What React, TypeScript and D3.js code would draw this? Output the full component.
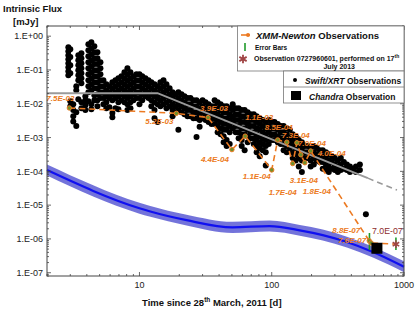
import React, { useEffect, useRef } from 'react';
import * as d3 from 'd3';

// Swift/XRT observations: [time since 28 March 2011 (d), fluxes (mJy)]
const swiftObs: [number, number[]][] = [
  [2.9, [0.47, 0.36, 0.274, 0.209, 0.159, 0.121, 0.092, 0.07]],
  [3.0, [0.41, 0.24, 0.139, 0.08, 0.0119, 0.0085]],
  [3.16, [0.0097, 0.0065, 0.0043, 0.003]],
  [3.33, [0.0332, 0.0253, 0.0022, 0.0056]],
  [3.45, [0.274, 0.195, 0.139, 0.0986, 0.07, 0.0499, 0.0137]],
  [3.64, [0.314, 0.223, 0.159, 0.113, 0.08, 0.0572, 0.0407, 0.0111, 0.0074]],
  [3.9, [0.0128, 0.0091, 0.0065, 0.0168]],
  [4.11, [0.58, 0.385, 0.256, 0.17, 0.113, 0.075, 0.0499, 0.0332, 0.022, 0.0119]],
  [4.33, [0.664, 0.441, 0.293, 0.195, 0.129, 0.086, 0.0572, 0.038, 0.0253, 0.0097, 0.0069]],
  [4.56, [0.506, 0.336, 0.223, 0.149, 0.0986, 0.0656, 0.0436, 0.029, 0.018, 0.0128]],
  [4.81, [0.336, 0.223, 0.149, 0.0986, 0.0656, 0.0436, 0.029, 0.0192, 0.0128, 0.0085]],
  [5.07, [0.17, 0.113, 0.075, 0.0499, 0.0332, 0.022, 0.0147]],
  [5.34, [0.0499, 0.0332, 0.022, 0.0147, 0.0097]],
  [5.62, [0.038, 0.0253, 0.0168, 0.0111, 0.0074]],
  [5.93, [0.0332, 0.022, 0.0147, 0.0079]],
  [6.24, [0.0436, 0.029, 0.0192, 0.0128, 0.0053, 0.004]],
  [6.58, [0.0499, 0.0332, 0.022, 0.0147, 0.0074]],
  [6.93, [0.0572, 0.038, 0.0253, 0.0168, 0.0111, 0.0069]],
  [7.31, [0.0656, 0.0436, 0.029, 0.0192, 0.0128]],
  [7.7, [0.086, 0.0572, 0.038, 0.0253, 0.0168, 0.0111]],
  [8.11, [0.113, 0.075, 0.0499, 0.0332, 0.022, 0.0147, 0.0097, 0.0065]],
  [8.55, [0.086, 0.0572, 0.038, 0.0253, 0.0168, 0.0111, 0.0074]],
  [9.01, [0.0656, 0.0436, 0.029, 0.0192, 0.0128]],
  [9.49, [0.075, 0.0499, 0.0332, 0.022, 0.0147]],
  [10, [0.075, 0.0499, 0.0332, 0.022, 0.0147, 0.0097]],
  [10.5, [0.0656, 0.0436, 0.029, 0.0192, 0.0128]],
  [11.1, [0.0572, 0.038, 0.0253, 0.0168]],
  [11.7, [0.0499, 0.0332, 0.022, 0.0147]],
  [12.3, [0.0436, 0.029, 0.0192, 0.0128, 0.0085]],
  [13.0, [0.038, 0.0253, 0.0168, 0.0111, 0.0065, 0.0037]],
  [13.7, [0.0332, 0.022, 0.0147, 0.0097, 0.0029]],
  [14.4, [0.0436, 0.029, 0.0192, 0.0128, 0.0085]],
  [15.2, [0.0499, 0.0332, 0.022, 0.0147, 0.0097]],
  [16.0, [0.038, 0.0253, 0.0168, 0.0111, 0.0074]],
  [16.9, [0.029, 0.0192, 0.0128, 0.0085]],
  [17.8, [0.022, 0.0147, 0.0097, 0.0065, 0.0043]],
  [18.7, [0.0192, 0.0128, 0.0085, 0.0056]],
  [19.7, [0.022, 0.0147, 0.0097, 0.0065, 0.0017]],
  [20.8, [0.0192, 0.0128, 0.0085, 0.0056]],
  [21.9, [0.0168, 0.0111, 0.0074, 0.0049]],
  [23.1, [0.0147, 0.0097, 0.0065, 0.0043]],
  [24.3, [0.0147, 0.0097, 0.0065, 0.0043]],
  [25.6, [0.0128, 0.0085, 0.0056, 0.0037]],
  [27.0, [0.0128, 0.0085, 0.0056, 0.0037, 0.00103]],
  [28.5, [0.0111, 0.0074, 0.0049, 0.0033, 0.0021]],
  [30.0, [0.0128, 0.0085, 0.0056, 0.0037]],
  [31.6, [0.0111, 0.0074, 0.0049, 0.0033]],
  [33.3, [0.0097, 0.0065, 0.0043, 0.0029]],
  [35.1, [0.0085, 0.0056, 0.0037, 0.0025]],
  [37.0, [0.0128, 0.0085, 0.0056, 0.0037, 0.0025]],
  [39.0, [0.0111, 0.0074, 0.0049, 0.0033, 0.0022, 0.00144]],
  [41.1, [0.0097, 0.0065, 0.0043, 0.0029, 0.0019, 0.00126]],
  [43.3, [0.0085, 0.0056, 0.0037, 0.0025, 0.0017, 0.0011, 0.00073]],
  [45.6, [0.0085, 0.0056, 0.0037, 0.0025, 0.0017, 0.00084, 0.00056]],
  [48.1, [0.0074, 0.0049, 0.0033, 0.0022, 0.00144, 0.00064]],
  [50.7, [0.0097, 0.0065, 0.0043, 0.0029, 0.0019]],
  [53.4, [0.0074, 0.0049, 0.0033, 0.0022, 0.00144]],
  [56.2, [0.0074, 0.0049, 0.0033, 0.0022, 0.00144, 0.00096]],
  [59.3, [0.0065, 0.0043, 0.0029, 0.0019, 0.00126, 0.00084, 0.00056]],
  [62.4, [0.0065, 0.0043, 0.0029, 0.0019, 0.00126, 0.00042]],
  [65.8, [0.0056, 0.0037, 0.0025, 0.0017, 0.0011, 0.00073]],
  [69.3, [0.0049, 0.0033, 0.0022, 0.00144, 0.00096]],
  [73.1, [0.0049, 0.0033, 0.0022, 0.00144, 0.00096, 0.00064]],
  [76.9, [0.0043, 0.0029, 0.0019, 0.00126, 0.00084, 0.00056, 0.00037]],
  [81.1, [0.0037, 0.0025, 0.0017, 0.0011, 0.00073, 0.00049, 0.00028]],
  [85.5, [0.0033, 0.0022, 0.00144, 0.00096, 0.00064, 0.00042]],
  [90.1, [0.0029, 0.0019, 0.00126, 0.00084, 0.00056, 0.00037, 0.00015]],
  [94.9, [0.0033, 0.0022, 0.00144, 0.00096, 0.00064]],
  [100, [0.0029, 0.0019, 0.00126, 0.00084]],
  [105, [0.0029, 0.0019, 0.00126, 0.00084]],
  [111, [0.0025, 0.0017, 0.0011, 0.00073]],
  [117, [0.0022, 0.00144, 0.00096, 0.00064]],
  [123, [0.0022, 0.00144, 0.00096, 0.00064, 0.00042]],
  [130, [0.0019, 0.00126, 0.00084, 0.00056, 0.00037]],
  [137, [0.0017, 0.0011, 0.00073, 0.00049]],
  [144, [0.00126, 0.00084, 0.00056, 0.00037, 0.00025]],
  [152, [0.0011, 0.00073, 0.00049, 0.00032, 0.00021]],
  [160, [0.00084, 0.00056, 0.00037, 0.00025, 0.00014]],
  [169, [0.00073, 0.00049, 0.00032, 0.00021, 0.000095]],
  [178, [0.00056, 0.00037, 0.00025]],
  [187, [0.00056, 0.00037, 0.00025]],
  [197, [0.00049, 0.00032, 0.00021, 0.00014]],
  [208, [0.00056, 0.00037, 0.00025, 0.00016]],
  [219, [0.00049, 0.00032, 0.00021]],
  [231, [0.00042, 0.00028, 0.00019]],
  [243, [0.00042, 0.00028, 0.00019, 0.00012]],
  [257, [0.00037, 0.00025, 0.00016, 0.00011]],
  [270, [0.00032, 0.00021, 0.00014, 0.000095]],
  [285, [0.00028, 0.00019, 0.00012]],
  [300, [0.00025, 0.00016, 0.00011]],
  [316, [0.00021, 0.00014, 0.000095]],
  [333, [0.00025, 0.00016, 0.00011]],
  [351, [0.00019, 0.00012]],
  [370, [0.00016, 0.00011]],
  [390, [0.00014, 0.000095]],
  [411, [0.00012]],
  [433, [0.00014, 0.000095]],
  [464, [0.00016, 0.00011]],
  [515, [5.4e-6]],
];

// XMM-Newton observations (last one is obs 0727960601)
const xmmTime = [2.95, 19, 33, 50, 63, 100, 111, 130, 144, 155, 166, 178, 197, 546, 564, 869];
const xmmFlux = [7.5e-3, 5.2e-3, 3.9e-3, 4.4e-4, 1.1e-3, 1.1e-4, 8.5e-4, 7.3e-4, 1.7e-4, 7.0e-4, 3.1e-4, 1.8e-4, 4.0e-4, 8.8e-7, 7.6e-7, 7.0e-7];
const xmmText = ['7.5E-03', '5.2E-03', '3.9E-03', '4.4E-04', '1.1E-03', '1.1E-04', '8.5E-04', '7.3E-04', '1.7E-04', '7.0E-04', '3.1E-04', '1.8E-04', '4.0E-04', '8.8E-07', '7.6E-07', '7.0E-07'];
// label placement relative to the point (px)
const xmmLabelOffset = [[-23, -7], [-31, 11], [-8, -7], [-31, 12], [0, -16], [-29, 9], [-13, -10], [-5, -4], [-24, 31], [1, 3], [-11, 28], [-2, 31], [7, 5], [-37, -8], [-33, 0], [-24, -10]];
// error bars: time, low, high
const xmmErrors: [number, number, number][] = [[548, 4.7e-7, 1.5e-6], [869, 4.7e-7, 1.1e-6]];

const chandraTime = 624;
const chandraFlux = 5.3e-7;

// broken power law fit to Swift data
const fitTime = [2, 13.7, 533];
const fitFlux = [0.0206, 0.0206, 6.3e-5];
const fitExtTime = [533, 885];
const fitExtFlux = [6.3e-5, 2.8e-5];

// blue band: curve with its envelope
const bandTime = [2, 10, 11.9, 22.7, 50.5, 96.3, 163, 243, 370, 582, 1000];
const bandFlux = [1.09e-4, 8.1e-6, 6.6e-6, 3.6e-6, 2.2e-6, 2.4e-6, 1.8e-6, 1.3e-6, 8.1e-7, 4.1e-7, 1.5e-7];
const bandLow = [7.5e-5, 5.6e-6, 4.6e-6, 2.5e-6, 1.5e-6, 1.65e-6, 1.25e-6, 9e-7, 5.6e-7, 2.8e-7, 1.03e-7];
const bandHigh = [1.6e-4, 1.18e-5, 9.6e-6, 5.2e-6, 3.2e-6, 3.5e-6, 2.6e-6, 1.9e-6, 1.17e-6, 5.9e-7, 2.2e-7];

const yTicks = [1, 1e-1, 1e-2, 1e-3, 1e-4, 1e-5, 1e-6, 1e-7];
const yTickLabels = ['1.E+00', '1.E-01', '1.E-02', '1.E-03', '1.E-04', '1.E-05', '1.E-06', '1.E-07'];
const xTicks = [10, 100, 1000];
const xTickLabels = ['10', '100', '1000'];

const FONT = 'Liberation Sans, Arial, Helvetica, sans-serif';
const ORANGE = '#ec7a22';

export default function App() {
  const ref = useRef<SVGSVGElement>(null);

  useEffect(() => {
    const svg = d3.select(ref.current);
    svg.selectAll('*').remove();

    const L = 47, R = 404, T = 26, B = 276;
    const x = d3.scaleLog().domain([2, 1000]).range([L, R]);
    const y = d3.scaleLog().domain([2, 8e-8]).range([T, B]);

    const plot = svg.append('g');

    // blue band
    const idx = d3.range(bandTime.length);
    plot.append('path')
      .attr('d', d3.area<number>().x(i => x(bandTime[i])).y0(i => y(bandLow[i])).y1(i => y(bandHigh[i])).curve(d3.curveMonotoneX)(idx))
      .attr('fill', '#5a5ad4').attr('opacity', 0.85);
    plot.append('path')
      .attr('d', d3.line<number>().x(i => x(bandTime[i])).y(i => y(bandFlux[i])).curve(d3.curveMonotoneX)(idx))
      .attr('fill', 'none').attr('stroke', '#1010f0').attr('stroke-width', 2.2);

    // swift points
    const swiftPts: [number, number][] = [];
    swiftObs.forEach(([t, fs]) => fs.forEach(f => swiftPts.push([t, f])));
    plot.selectAll('circle.swift').data(swiftPts).enter().append('circle')
      .attr('class', 'swift')
      .attr('cx', d => x(d[0])).attr('cy', d => y(d[1])).attr('r', 3)
      .attr('fill', '#000');

    // fit line (solid, then dashed extrapolation)
    plot.append('path')
      .attr('d', d3.line()(fitTime.map((t, i) => [x(t), y(fitFlux[i])])))
      .attr('fill', 'none').attr('stroke', '#9a9a9a').attr('stroke-width', 2);
    plot.append('path')
      .attr('d', d3.line()(fitExtTime.map((t, i) => [x(t), y(fitExtFlux[i])])))
      .attr('fill', 'none').attr('stroke', '#9a9a9a').attr('stroke-width', 1.6).attr('stroke-dasharray', '6,4');

    // XMM dashed line
    plot.append('path')
      .attr('d', d3.line()(xmmTime.map((t, i) => [x(t), y(xmmFlux[i])])))
      .attr('fill', 'none').attr('stroke', ORANGE).attr('stroke-width', 1.6).attr('stroke-dasharray', '6,4');

    // error bars
    plot.selectAll('line.err').data(xmmErrors).enter().append('line')
      .attr('x1', d => x(d[0])).attr('x2', d => x(d[0]))
      .attr('y1', d => y(d[1])).attr('y2', d => y(d[2]))
      .attr('stroke', '#1f9a2a').attr('stroke-width', 1.6);

    // XMM markers
    const last = xmmTime.length - 1;
    plot.selectAll('circle.xmm').data(xmmTime.slice(0, last)).enter().append('circle')
      .attr('cx', (t) => x(t)).attr('cy', (_, i) => y(xmmFlux[i])).attr('r', 2.2)
      .attr('fill', '#6f8f2a').attr('stroke', ORANGE).attr('stroke-width', 1);
    plot.append('path')
      .attr('d', d3.symbol(d3.symbolAsterisk, 40)())
      .attr('transform', `translate(${x(xmmTime[last])},${y(xmmFlux[last])})`)
      .attr('fill', 'none').attr('stroke', '#a04545').attr('stroke-width', 1.5);

    // chandra
    const cs = 11;
    plot.append('rect')
      .attr('x', x(chandraTime) - cs / 2).attr('y', y(chandraFlux) - cs / 2)
      .attr('width', cs).attr('height', cs).attr('fill', '#000');

    // XMM labels
    plot.selectAll('text.xmm').data(xmmText).enter().append('text')
      .attr('x', (_, i) => x(xmmTime[i]) + xmmLabelOffset[i][0])
      .attr('y', (_, i) => y(xmmFlux[i]) + xmmLabelOffset[i][1])
      .attr('font-family', FONT).attr('font-size', (_, i) => (i === last ? 8.8 : 8))
      .attr('font-weight', (_, i) => (i === last ? 'normal' : 'bold'))
      .attr('font-style', (_, i) => (i === last ? 'normal' : 'italic'))
      .attr('fill', (_, i) => (i === last ? '#8e2d2d' : ORANGE))
      .text(d => d);

    // frame
    svg.append('rect').attr('x', L).attr('y', T).attr('width', R - L).attr('height', B - T)
      .attr('fill', 'none').attr('stroke', '#444').attr('stroke-width', 1);

    // minor + major ticks, pointing inward on all four sides
    const axes = svg.append('g').attr('stroke', '#444').attr('stroke-width', 0.8);
    const yMinor: number[] = [];
    for (let k = -8; k <= 0; k++) for (let m = 1; m <= 9; m++) {
      const v = m * Math.pow(10, k);
      if (v >= 8e-8 && v <= 2) yMinor.push(v);
    }
    yMinor.forEach(v => {
      const len = yTicks.includes(v) ? 4 : 2;
      axes.append('line').attr('x1', L).attr('x2', L + len).attr('y1', y(v)).attr('y2', y(v));
      axes.append('line').attr('x1', R).attr('x2', R - len).attr('y1', y(v)).attr('y2', y(v));
    });
    const xMinor: number[] = [];
    for (let k = 0; k <= 3; k++) for (let m = 1; m <= 9; m++) {
      const v = m * Math.pow(10, k);
      if (v >= 2 && v <= 1000) xMinor.push(v);
    }
    xMinor.forEach(v => {
      const len = xTicks.includes(v) ? 4 : 2;
      axes.append('line').attr('x1', x(v)).attr('x2', x(v)).attr('y1', B).attr('y2', B - len);
      axes.append('line').attr('x1', x(v)).attr('x2', x(v)).attr('y1', T).attr('y2', T + len);
    });

    // tick labels
    svg.selectAll('text.yt').data(yTicks).enter().append('text')
      .attr('x', L - 4).attr('y', d => y(d) + 3.2)
      .attr('text-anchor', 'end').attr('font-family', FONT).attr('font-size', 9).attr('fill', '#222')
      .text((_, i) => yTickLabels[i]);
    svg.selectAll('text.xt').data(xTicks).enter().append('text')
      .attr('x', d => x(d)).attr('y', B + 12)
      .attr('text-anchor', 'middle').attr('font-family', FONT).attr('font-size', 9).attr('fill', '#222')
      .text((_, i) => xTickLabels[i]);

    // axis titles
    svg.append('text').attr('x', 3).attr('y', 12).attr('font-family', FONT).attr('font-size', 9.5)
      .attr('font-weight', 'bold').attr('fill', '#111').text('Intrinsic Flux');
    svg.append('text').attr('x', 13).attr('y', 25).attr('font-family', FONT).attr('font-size', 9.5)
      .attr('font-weight', 'bold').attr('fill', '#111').text('[mJy]');
    const xt = svg.append('text').attr('x', 142).attr('y', 306).attr('font-family', FONT).attr('font-size', 9.5)
      .attr('font-weight', 'bold').attr('fill', '#111');
    xt.append('tspan').text('Time since 28');
    xt.append('tspan').attr('font-size', 6.5).attr('dy', -4).text('th');
    xt.append('tspan').attr('dy', 4).text(' March, 2011 [d]');

    // legend
    const lg = svg.append('g').attr('font-family', FONT).attr('font-weight', 'bold').attr('fill', '#111');
    lg.append('rect').attr('x', 237.5).attr('y', T).attr('width', R - 237.5).attr('height', 45)
      .attr('fill', '#fff').attr('stroke', '#777').attr('stroke-width', 0.8);
    lg.append('rect').attr('x', 283.5).attr('y', T + 45).attr('width', R - 283.5).attr('height', 32)
      .attr('fill', '#fff').attr('stroke', '#777').attr('stroke-width', 0.8);
    lg.append('line').attr('x1', 283.5).attr('x2', R).attr('y1', 87).attr('y2', 87)
      .attr('stroke', '#777').attr('stroke-width', 0.8);

    lg.append('line').attr('x1', 241).attr('x2', 250).attr('y1', 35).attr('y2', 35)
      .attr('stroke', ORANGE).attr('stroke-width', 1.6);
    lg.append('circle').attr('cx', 248).attr('cy', 35).attr('r', 2).attr('fill', ORANGE);
    const t1 = lg.append('text').attr('x', 256).attr('y', 39).attr('font-size', 9.5);
    t1.append('tspan').attr('font-style', 'italic').text('XMM-Newton');
    t1.append('tspan').text(' Observations');

    lg.append('line').attr('x1', 245).attr('x2', 245).attr('y1', 43).attr('y2', 51)
      .attr('stroke', '#1f9a2a').attr('stroke-width', 1.6);
    lg.append('text').attr('x', 255).attr('y', 50).attr('font-size', 6.5).text('Error Bars');

    lg.append('path').attr('d', d3.symbol(d3.symbolAsterisk, 50)())
      .attr('transform', 'translate(243,59)').attr('fill', 'none')
      .attr('stroke', '#a04545').attr('stroke-width', 1.8);
    const t3 = lg.append('text').attr('x', 254).attr('y', 60.5).attr('font-size', 7);
    t3.append('tspan').text('Observation 0727960601, performed on 17');
    t3.append('tspan').attr('font-size', 5).attr('dy', -3).text('th');
    lg.append('text').attr('x', 355).attr('y', 69).attr('font-size', 7).attr('text-anchor', 'end').text('July 2013');

    lg.append('circle').attr('cx', 295).attr('cy', 80).attr('r', 2).attr('fill', '#000');
    const t4 = lg.append('text').attr('x', 305).attr('y', 83.5).attr('font-size', 8.5);
    t4.append('tspan').attr('font-style', 'italic').text('Swift/XRT');
    t4.append('tspan').text(' Observations');

    lg.append('rect').attr('x', 291).attr('y', 91).attr('width', 10).attr('height', 9).attr('fill', '#000');
    const t5 = lg.append('text').attr('x', 309).attr('y', 99.5).attr('font-size', 8.5);
    t5.append('tspan').attr('font-style', 'italic').text('Chandra');
    t5.append('tspan').text(' Observation');
  }, []);

  return (
    <svg ref={ref} width={415} height={314}
      style={{ position: 'absolute', left: 0, top: 0, background: '#fff' }} />
  );
}
